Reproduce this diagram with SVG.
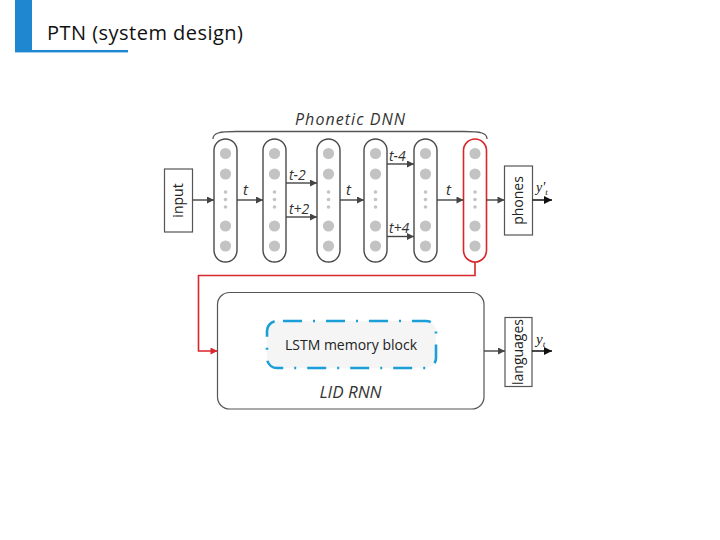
<svg xmlns="http://www.w3.org/2000/svg" width="720" height="540" viewBox="0 0 720 540">
<defs>
<style>
.col{fill:#fff;stroke:#4a4a4a;stroke-width:1.4}
.red{fill:#fff;stroke:#d8262a;stroke-width:1.6}
.c{fill:#c3c3c3}
.ar{stroke:#444;stroke-width:1.4;fill:none}
.box{fill:#fff;stroke:#555;stroke-width:1.2}
.lbl{font-family:"Open Sans","Liberation Sans",sans-serif;font-size:14px;fill:#222}
.it{font-family:"Open Sans","Liberation Sans",sans-serif;font-style:italic;fill:#333}
.ser{font-family:"Liberation Serif",serif;font-style:italic;fill:#222}
</style>
<marker id="ah" viewBox="0 0 10 10" refX="10" refY="5" markerWidth="8" markerHeight="7" markerUnits="userSpaceOnUse" orient="auto">
<path d="M0,0 L10,5 L0,10 Z" fill="#444"/>
</marker>
<marker id="ahk" viewBox="0 0 10 10" refX="10" refY="5" markerWidth="9" markerHeight="8" markerUnits="userSpaceOnUse" orient="auto">
<path d="M0,0 L10,5 L0,10 Z" fill="#111"/>
</marker>
<marker id="ahr" viewBox="0 0 10 10" refX="10" refY="5" markerWidth="8" markerHeight="7" markerUnits="userSpaceOnUse" orient="auto">
<path d="M0,0 L10,5 L0,10 Z" fill="#d8262a"/>
</marker>
<g id="neurons">
<circle class="c" cx="0" cy="153.5" r="5.6"/>
<circle class="c" cx="0" cy="174" r="5.6"/>
<circle class="c" cx="0" cy="192" r="1.8"/>
<circle class="c" cx="0" cy="199.5" r="1.8"/>
<circle class="c" cx="0" cy="207" r="1.8"/>
<circle class="c" cx="0" cy="226" r="5.6"/>
<circle class="c" cx="0" cy="246" r="5.6"/>
</g>
</defs>
<rect width="720" height="540" fill="#fff"/>

<g id="title">
<rect x="15" y="0" width="17" height="52" fill="#1f86d0"/>
<rect x="15" y="50" width="113" height="2.4" fill="#1f86d0"/>
<text x="47" y="40" font-family="Open Sans,Liberation Sans,sans-serif" font-size="20" fill="#111" textLength="196">PTN (system design)</text>
</g>

<g id="brace">
<path d="M213,139 C213,133 219,131.5 236,131.5 L464,131.5 C481,131.5 487,133 487,139" fill="none" stroke="#555" stroke-width="1.3"/>
<text class="it" x="350" y="125" font-size="16" text-anchor="middle" textLength="110">Phonetic DNN</text>
</g>

<g id="input">
<rect class="box" x="164.5" y="169" width="28" height="63"/>
<text class="lbl" transform="translate(183,200.5) rotate(-90)" text-anchor="middle">input</text>
</g>

<g id="layer1"><rect class="col" x="214" y="139" width="23" height="123" rx="11.5"/><use href="#neurons" x="225.5"/></g>
<g id="layer2"><rect class="col" x="263" y="139" width="23" height="123" rx="11.5"/><use href="#neurons" x="274.5"/></g>
<g id="layer3"><rect class="col" x="317" y="139" width="23" height="123" rx="11.5"/><use href="#neurons" x="328.5"/></g>
<g id="layer4"><rect class="col" x="364" y="139" width="23" height="123" rx="11.5"/><use href="#neurons" x="375.5"/></g>
<g id="layer5"><rect class="col" x="414" y="139" width="23" height="123" rx="11.5"/><use href="#neurons" x="425.5"/></g>
<g id="layer6"><rect class="red" x="463.5" y="139" width="23" height="123" rx="11.5"/><use href="#neurons" x="475"/></g>

<g id="phones">
<rect class="box" x="504.5" y="166" width="28" height="69"/>
<text class="lbl" transform="translate(523,200.5) rotate(-90)" text-anchor="middle">phones</text>
</g>

<g id="lid-rnn">
<rect class="box" x="217.5" y="292.5" width="266.5" height="116.5" rx="12"/>
<text class="it" x="350.5" y="398" font-size="17" text-anchor="middle">LID RNN</text>
</g>

<g id="lstm">
<rect x="267" y="321" width="169" height="47" rx="10" fill="#f5f5f5" stroke="#1a9fd8" stroke-width="2.6" stroke-dasharray="19 11 2 11" stroke-dashoffset="-6"/>
<text class="lbl" x="351" y="350" text-anchor="middle">LSTM memory block</text>
</g>

<g id="languages">
<rect class="box" x="505" y="317.5" width="27" height="69"/>
<text class="lbl" font-size="13" transform="translate(523,352) rotate(-90)" text-anchor="middle">languages</text>
</g>

<g id="connectors">
<line class="ar" x1="192.5" y1="200" x2="214" y2="200" marker-end="url(#ah)"/>
<line class="ar" x1="237" y1="200" x2="263" y2="200" marker-end="url(#ah)"/>
<line class="ar" x1="286" y1="183" x2="317" y2="183" marker-end="url(#ah)"/>
<line class="ar" x1="286" y1="217" x2="317" y2="217" marker-end="url(#ah)"/>
<line class="ar" x1="340" y1="200" x2="364" y2="200" marker-end="url(#ah)"/>
<line class="ar" x1="387" y1="164" x2="414" y2="164" marker-end="url(#ah)"/>
<line class="ar" x1="387" y1="236.5" x2="414" y2="236.5" marker-end="url(#ah)"/>
<line class="ar" x1="437" y1="200" x2="463.5" y2="200" marker-end="url(#ah)"/>
<line class="ar" x1="486.5" y1="200" x2="504.5" y2="200" marker-end="url(#ah)"/>
<line x1="532.5" y1="200" x2="552" y2="200" stroke="#111" stroke-width="1.5" marker-end="url(#ahk)"/>
<line class="ar" x1="484" y1="351" x2="505" y2="351" marker-end="url(#ah)"/>
<line x1="532" y1="351" x2="552" y2="351" stroke="#111" stroke-width="1.5" marker-end="url(#ahk)"/>
<path d="M475,262 V275.5 H198.5 V351 H217.5" fill="none" stroke="#d8262a" stroke-width="1.6" marker-end="url(#ahr)"/>
<text class="it" x="243" y="195" font-size="15">t</text>
<text class="it" x="289" y="180" font-size="14">t-2</text>
<text class="it" x="289" y="214" font-size="14">t+2</text>
<text class="it" x="346" y="195" font-size="15">t</text>
<text class="it" x="389" y="161" font-size="14">t-4</text>
<text class="it" x="389" y="233" font-size="14">t+4</text>
<text class="it" x="446" y="195" font-size="15">t</text>
<text class="ser" x="536" y="192" font-size="14">y'<tspan font-size="9" dy="3">t</tspan></text>
<text class="ser" x="536" y="344" font-size="15">y<tspan font-size="9" dy="3">t</tspan></text>
</g>
</svg>
